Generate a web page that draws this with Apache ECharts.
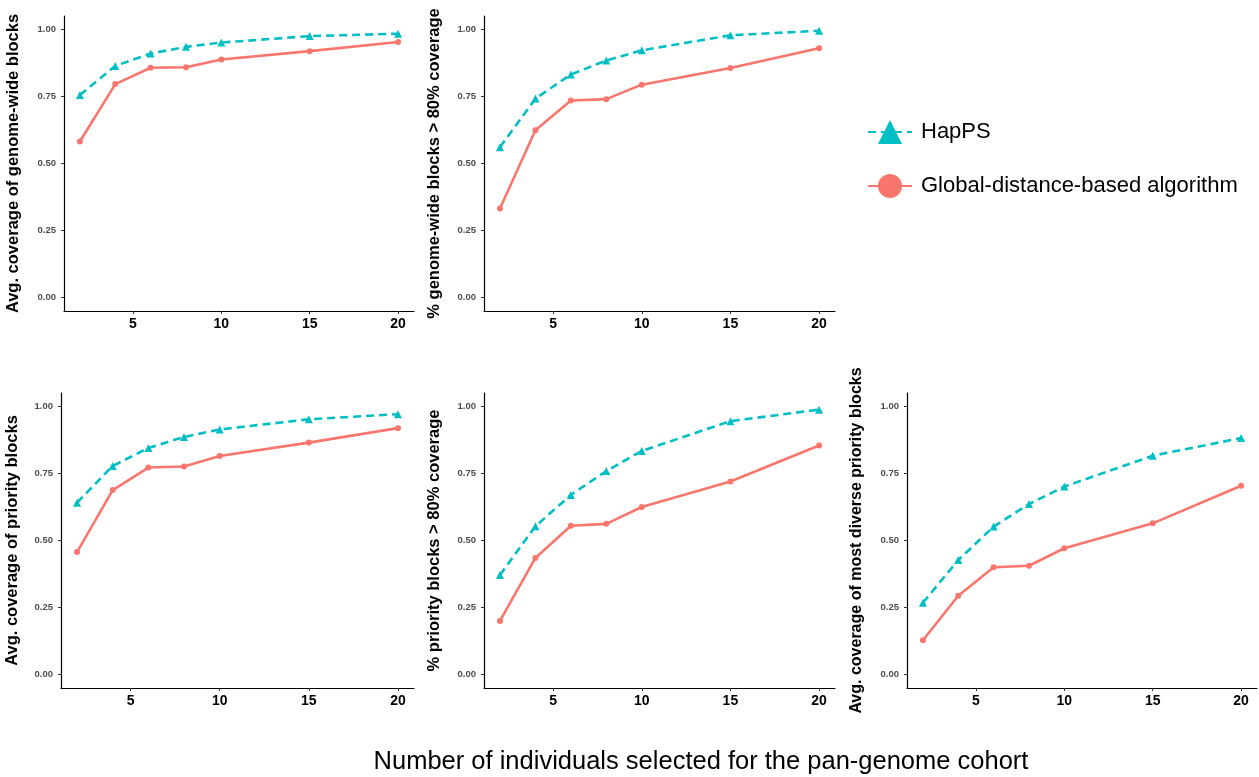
<!DOCTYPE html>
<html>
<head>
<meta charset="utf-8">
<script src="https://cdn.jsdelivr.net/npm/echarts@6/dist/echarts.min.js"></script>
<style>
  html, body { margin: 0; padding: 0; background: #ffffff; }
  #chart { width: 1259px; height: 777px; }
</style>
</head>
<body>
<div id="chart"></div>
<script>
// Cohort sizes (number of individuals selected)
const cohortSizes = [2, 4, 6, 8, 10, 15, 20];
const xTicks = [5, 10, 15, 20];
const yTicks = [0, 0.25, 0.5, 0.75, 1.0];

const seriesNames = ['HapPS', 'Global-distance-based algorithm'];

// Panel titles (y axes)
const panelTitles = [
  'Avg. coverage of genome-wide blocks',
  '% genome-wide blocks > 80% coverage',
  'Avg. coverage of priority blocks',
  '% priority blocks > 80% coverage',
  'Avg. coverage of most diverse priority blocks'
];

// HapPS values per panel
const happsGenomeCov   = [0.755, 0.864, 0.910, 0.935, 0.951, 0.975, 0.984];
const happsGenome80    = [0.561, 0.742, 0.832, 0.884, 0.922, 0.978, 0.995];
const happsPriorityCov = [0.641, 0.778, 0.845, 0.886, 0.914, 0.952, 0.971];
const happsPriority80  = [0.371, 0.553, 0.670, 0.759, 0.834, 0.945, 0.988];
const happsDiverseCov  = [0.268, 0.427, 0.552, 0.636, 0.701, 0.816, 0.882];

// Global-distance-based algorithm values per panel
const globalGenomeCov   = [0.582, 0.796, 0.857, 0.859, 0.888, 0.919, 0.953];
const globalGenome80    = [0.332, 0.624, 0.735, 0.740, 0.794, 0.856, 0.930];
const globalPriorityCov = [0.457, 0.688, 0.772, 0.776, 0.815, 0.865, 0.919];
const globalPriority80  = [0.200, 0.435, 0.555, 0.562, 0.625, 0.720, 0.854];
const globalDiverseCov  = [0.128, 0.294, 0.400, 0.406, 0.471, 0.564, 0.704];

const happsPanels  = [happsGenomeCov, happsGenome80, happsPriorityCov, happsPriority80, happsDiverseCov];
const globalPanels = [globalGenomeCov, globalGenome80, globalPriorityCov, globalPriority80, globalDiverseCov];

const xTitle = 'Number of individuals selected for the pan-genome cohort';

const TEAL = '#00BFC4';
const SALMON = '#F8766D';
const FONT = '"Liberation Sans", Arial, Helvetica, sans-serif';

// Panel boxes: left, top, width, height, y-title gap, y-title size
const panelBoxes = [
  { left: 64,  top: 16,  width: 350, height: 295, gap: 42, title: 16.5 },
  { left: 484, top: 16,  width: 351, height: 295, gap: 41, title: 16.5 },
  { left: 61,  top: 393, width: 353, height: 295, gap: 40, title: 16.5 },
  { left: 484, top: 393, width: 351, height: 295, gap: 41, title: 16.5 },
  { left: 907, top: 393, width: 350, height: 295, gap: 42, title: 16 }
];

const pairs = (ys) => cohortSizes.map((x, i) => [x, ys[i]]);

const grid = [], xAxis = [], yAxis = [], series = [];
panelBoxes.forEach((b, i) => {
  grid.push({ left: b.left, top: b.top, width: b.width, height: b.height, containLabel: false });
  xAxis.push({
    type: 'value', gridIndex: i, min: 1.1, max: 20.9,
    splitLine: { show: false },
    axisLine: { show: true, onZero: false, lineStyle: { color: '#000', width: 1.2 } },
    axisTick: { show: true, length: 3, customValues: xTicks, lineStyle: { color: '#333', width: 1 } },
    axisLabel: { customValues: xTicks, color: '#000', fontFamily: FONT, fontWeight: 'bold', fontSize: 14, margin: 6 }
  });
  yAxis.push({
    type: 'value', gridIndex: i, min: -0.05, max: 1.05,
    name: panelTitles[i], nameLocation: 'middle', nameGap: b.gap,
    nameTextStyle: { color: '#000', fontFamily: FONT, fontWeight: 'bold', fontSize: b.title },
    splitLine: { show: false },
    axisLine: { show: true, onZero: false, lineStyle: { color: '#000', width: 1.2 } },
    axisTick: { show: true, length: 3, customValues: yTicks, lineStyle: { color: '#333', width: 1 } },
    axisLabel: {
      customValues: yTicks, color: '#4D4D4D', fontFamily: FONT, fontWeight: 'bold', fontSize: 9.5, margin: 8,
      formatter: (v) => v.toFixed(2)
    }
  });
  series.push({
    name: seriesNames[0], type: 'line', xAxisIndex: i, yAxisIndex: i,
    data: pairs(happsPanels[i]),
    symbol: 'triangle', symbolSize: 8,
    itemStyle: { color: TEAL },
    lineStyle: { color: TEAL, width: 2.6, type: [8, 5] },
    z: 3, silent: true
  });
  series.push({
    name: seriesNames[1], type: 'line', xAxisIndex: i, yAxisIndex: i,
    data: pairs(globalPanels[i]),
    symbol: 'circle', symbolSize: 6,
    itemStyle: { color: SALMON },
    lineStyle: { color: SALMON, width: 2.6 },
    z: 2, silent: true
  });
});

const chart = echarts.init(document.getElementById('chart'), null, { renderer: 'canvas' });
chart.setOption({
  animation: false,
  backgroundColor: '#ffffff',
  grid, xAxis, yAxis, series,
  legend: {
    orient: 'vertical', left: 862, top: 115,
    itemWidth: 44, itemHeight: 30, itemGap: 30,
    selectedMode: false,
    textStyle: { color: '#000', fontFamily: FONT, fontSize: 22, padding: [0, 0, 0, 4] },
    data: seriesNames
  },
  graphic: [{
    type: 'text', x: 701, y: 762,
    style: { text: xTitle, fill: '#000', font: '25.5px ' + FONT, align: 'center', verticalAlign: 'middle' }
  }]
});
</script>
</body>
</html>
